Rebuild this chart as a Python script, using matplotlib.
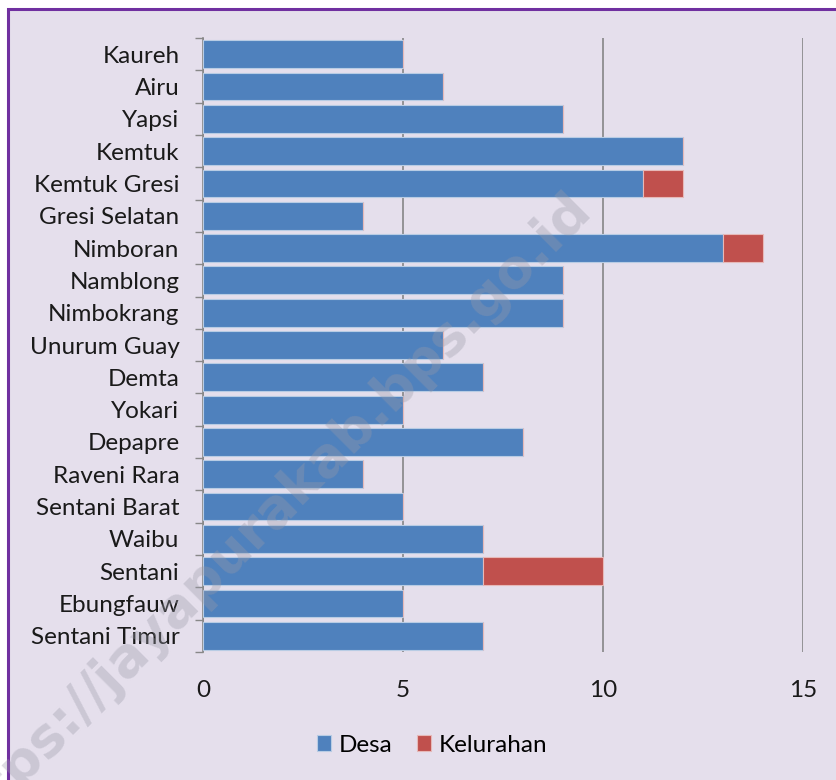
import numpy as np
import matplotlib.pyplot as plt
from matplotlib.patches import Rectangle

plt.rcParams['font.family'] = ['Lato', 'DejaVu Sans']

distrik = ['Kaureh', 'Airu', 'Yapsi', 'Kemtuk', 'Kemtuk Gresi', 'Gresi Selatan',
           'Nimboran', 'Namblong', 'Nimbokrang', 'Unurum Guay', 'Demta', 'Yokari',
           'Depapre', 'Raveni Rara', 'Sentani Barat', 'Waibu', 'Sentani',
           'Ebungfauw', 'Sentani Timur']
desa = [5, 6, 9, 12, 11, 4, 13, 9, 9, 6, 7, 5, 8, 4, 5, 7, 7, 5, 7]
kelurahan = [0, 0, 0, 0, 1, 0, 1, 0, 0, 0, 0, 0, 0, 0, 0, 0, 3, 0, 0]
xticks = [0, 5, 10, 15]

bg = '#E5DFEC'
blue = '#4F81BD'
red = '#C0504D'

fig = plt.figure(figsize=(8.37, 7.8), dpi=100)
fig.patch.set_facecolor('white')
# chart frame (purple border top/left, runs off the image right/bottom)
fig.patches.append(Rectangle((8/837, -0.05), 1.0, 1 - 9/780 + 0.05,
                             transform=fig.transFigure, facecolor=bg,
                             edgecolor='#7030A0', linewidth=2.2, zorder=-10))

ax = fig.add_axes([203/837, 1 - 652/780, 600/837, 614/780])
ax.set_facecolor('none')

y = np.arange(len(distrik))
ax.barh(y, desa, height=0.86, color=blue, edgecolor='#B8CCE4', linewidth=0.8,
        label='Desa', zorder=3)
ax.barh(y, kelurahan, left=desa, height=0.86, color=red, edgecolor='#E6B9B8',
        linewidth=0.8, label='Kelurahan', zorder=3)

ax.set_xlim(0, 15)
ax.set_ylim(len(distrik) - 0.5, -0.5)
ax.set_xticks(xticks)
ax.set_xticklabels([str(t) for t in xticks])
ax.set_yticks(y)
ax.set_yticklabels(distrik)
ax.set_yticks(np.arange(len(distrik) + 1) - 0.5, minor=True)
ax.tick_params(axis='y', which='major', length=0, pad=17, labelsize=17.5, colors='#1a1a1a')
ax.tick_params(axis='y', which='minor', length=6, color='#888888', width=1)
ax.tick_params(axis='x', length=0, pad=20, labelsize=17.5, colors='#1a1a1a')

ax.grid(axis='x', color='#868686', linewidth=1.2, zorder=1)
for s in ['top', 'right', 'bottom']:
    ax.spines[s].set_visible(False)
ax.spines['left'].set_color('#888888')
ax.spines['left'].set_linewidth(1.2)

fig.legend(loc='center', bbox_to_anchor=(432/837, 1 - 745/780), ncol=2, frameon=False,
           fontsize=17.5, handlelength=0.6, handleheight=0.6, handletextpad=0.3,
           columnspacing=1.0)

# watermark
fig.text(582/837, 1 - 200/780, 'https://jayapurakab.bps.go.id', rotation=45,
         rotation_mode='anchor', ha='right', va='center', fontsize=39,
         fontweight='bold', family='DejaVu Sans', color='#9a9aa8', alpha=0.35,
         zorder=10)

fig.savefig('out.png', dpi=100, facecolor=fig.get_facecolor())
